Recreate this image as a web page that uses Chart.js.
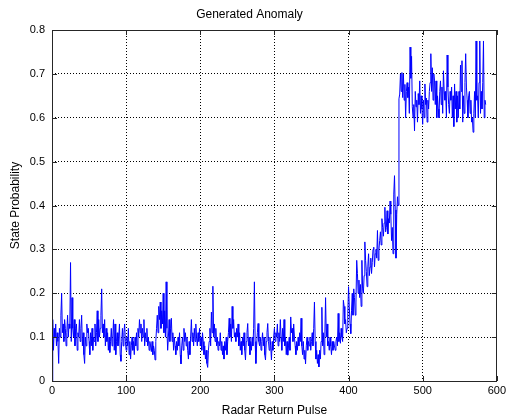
<!DOCTYPE html>
<html><head><meta charset="utf-8">
<script src="https://cdn.jsdelivr.net/npm/chart.js@4/dist/chart.umd.min.js"></script>
<style>html,body{margin:0;padding:0;background:#fff}#wrap{width:509px;height:418px}</style>
</head><body><div id="wrap"><canvas id="c" width="509" height="418"></canvas></div>
<script>
const titleText = 'Generated Anomaly';
const xLabel = 'Radar Return Pulse';
const yLabel = 'State Probability';
const xTicks = [0, 100, 200, 300, 400, 500, 600];
const yTicks = [0, 0.1, 0.2, 0.3, 0.4, 0.5, 0.6, 0.7, 0.8];

// pulses 0..399 (normal state)
const baseline = [
0,0.14,0.07,0.12,0.10,0.13,0.08,0.11,0.09,0.04,
0.12,0.10,0.15,0.20,0.11,0.13,0.09,0.14,0.12,0.08,
0.11,0.15,0.10,0.13,0.12,0.27,0.09,0.19,0.12,0.10,
0.14,0.08,0.12,0.13,0.07,0.11,0.10,0.14,0.09,0.12,
0.15,0.08,0.11,0.06,0.04,0.10,0.08,0.13,0.11,0.12,
0.09,0.06,0.11,0.08,0.12,0.07,0.10,0.09,0.13,0.08,
0.11,0.16,0.09,0.14,0.10,0.12,0.15,0.21,0.11,0.13,
0.10,0.14,0.08,0.12,0.09,0.11,0.07,0.10,0.065,0.09,
0.12,0.08,0.10,0.14,0.07,0.13,0.06,0.09,0.11,0.08,
0.10,0.13,0.06,0.045,0.09,0.12,0.08,0.11,0.13,0.09,
0.07,0.10,0.08,0.12,0.06,0.09,0.05,0.08,0.10,0.07,
0.09,0.06,0.10,0.08,0.11,0.07,0.12,0.10,0.14,0.11,
0.13,0.09,0.12,0.10,0.14,0.08,0.11,0.09,0.12,0.08,
0.10,0.07,0.09,0.08,0.067,0.09,0.06,0.08,0.07,0.048,
0.09,0.12,0.15,0.11,0.17,0.14,0.18,0.12,0.16,0.13,
0.20,0.11,0.16,0.10,0.226,0.12,0.07,0.10,0.14,0.09,
0.12,0.143,0.09,0.11,0.07,0.10,0.08,0.06,0.09,0.07,
0.10,0.08,0.11,0.06,0.039,0.08,0.10,0.07,0.12,0.09,
0.11,0.08,0.10,0.07,0.05,0.09,0.06,0.10,0.14,0.09,
0.11,0.08,0.12,0.09,0.13,0.10,0.08,0.11,0.09,0.12,
0.08,0.10,0.07,0.11,0.09,0.06,0.08,0.05,0.07,0.04,
0.031,0.07,0.09,0.12,0.08,0.157,0.11,0.216,0.10,0.13,
0.09,0.12,0.08,0.10,0.07,0.09,0.08,0.11,0.07,0.09,
0.06,0.08,0.05,0.09,0.07,0.10,0.06,0.09,0.11,0.143,
0.10,0.13,0.09,0.17,0.12,0.14,0.10,0.11,0.09,0.12,
0.10,0.13,0.08,0.11,0.07,0.09,0.06,0.10,0.08,0.11,
0.07,0.048,0.09,0.11,0.131,0.08,0.10,0.06,0.09,0.07,
0.10,0.08,0.12,0.226,0.09,0.04,0.08,0.11,0.131,0.09,
0.08,0.10,0.07,0.09,0.11,0.08,0.10,0.06,0.048,0.09,
0.11,0.131,0.09,0.07,0.10,0.08,0.048,0.09,0.07,0.10,
0.12,0.09,0.11,0.10,0.13,0.08,0.11,0.09,0.14,0.10,
0.07,0.12,0.09,0.14,0.08,0.10,0.06,0.09,0.059,0.08,
0.10,0.07,0.146,0.11,0.12,0.09,0.13,0.10,0.08,0.06,
0.09,0.07,0.10,0.08,0.11,0.09,0.143,0.08,0.06,0.09,
0.05,0.07,0.039,0.08,0.10,0.07,0.09,0.08,0.10,0.07,
0.09,0.11,0.08,0.12,0.18,0.09,0.05,0.07,0.04,0.06,
0.032,0.07,0.05,0.09,0.168,0.08,0.11,0.06,0.10,0.19,
0.10,0.13,0.08,0.09,0.07,0.10,0.08,0.06,0.09,0.07,
0.09,0.08,0.07,0.09,0.10,0.08,0.154,0.09,0.11,0.086,
0.12,0.10,0.09,0.184,0.17,0.13,0.14,0.11,0.12,0.154
];

// pulses 400..467 (anomaly onset)
const rise = [
0.215,0.17,0.13,0.108,0.16,0.20,0.15,0.21,0.19,0.15,
0.18,0.275,0.245,0.20,0.23,0.19,0.22,0.17,0.275,0.21,
0.20,0.24,0.317,0.275,0.25,0.215,0.26,0.29,0.24,0.26,
0.28,0.245,0.27,0.30,0.305,0.26,0.29,0.30,0.28,0.343,
0.275,0.30,0.32,0.34,0.31,0.37,0.35,0.33,0.36,0.396,
0.34,0.35,0.388,0.335,0.37,0.36,0.41,0.38,0.32,0.35,
0.29,0.426,0.468,0.39,0.28,0.38,0.42,0.40
];

// pulses 468..585 (anomalous state)
const plateau = [
0.643,0.654,
0.70,0.66,0.703,0.646,0.70,0.64,0.676,0.60,0.66,0.68,
0.646,0.67,0.61,0.761,0.69,0.74,0.625,0.60,0.63,0.57,
0.66,0.625,0.64,0.59,0.655,0.63,0.684,0.61,0.65,0.62,
0.585,0.64,0.60,0.677,0.63,0.645,0.59,0.64,0.62,0.66,
0.68,0.746,0.66,0.714,0.64,0.70,0.684,0.63,0.684,0.60,
0.65,0.62,0.60,0.66,0.684,0.63,0.67,0.61,0.707,0.66,
0.64,0.66,0.60,0.743,0.67,0.63,0.61,0.66,0.64,0.67,
0.60,0.65,0.58,0.677,0.62,0.66,0.59,0.65,0.60,0.66,
0.62,0.72,0.66,0.73,0.59,0.65,0.61,0.68,0.746,0.67,
0.64,0.60,0.65,0.66,0.61,0.64,0.59,0.60,0.567,0.61,
0.66,0.60,0.775,0.64,0.65,0.60,0.68,0.775,0.61,0.66,
0.62,0.68,0.775,0.60,0.64,0.63
];

const probability = baseline.concat(rise, plateau);
const points = probability.map((v, i) => ({x: i, y: v}));

const FONT = '"Liberation Sans", Arial, Helvetica, sans-serif';

const boxPlugin = {
  id: 'box',
  afterDraw(chart) {
    const {ctx, chartArea: a, scales} = chart;
    ctx.save();
    ctx.strokeStyle = '#262626';
    ctx.lineWidth = 1;
    ctx.setLineDash([]);
    ctx.strokeRect(Math.round(a.left) + 0.5, Math.round(a.top) + 0.5,
      Math.round(a.right - a.left) - 1, Math.round(a.bottom - a.top));
    const L = 5;
    ctx.beginPath();
    xTicks.forEach(v => {
      const px = Math.round(scales.x.getPixelForValue(v)) + 0.5;
      ctx.moveTo(px, a.bottom); ctx.lineTo(px, a.bottom - L);
      ctx.moveTo(px, a.top); ctx.lineTo(px, a.top + L);
    });
    yTicks.forEach(v => {
      const py = Math.round(scales.y.getPixelForValue(v)) + 0.5;
      ctx.moveTo(a.left, py); ctx.lineTo(a.left + L, py);
      ctx.moveTo(a.right, py); ctx.lineTo(a.right - L, py);
    });
    ctx.stroke();
    ctx.restore();
  }
};

new Chart(document.getElementById('c'), {
  type: 'line',
  data: {
    datasets: [{
      data: points,
      borderColor: '#0000ff',
      borderWidth: 1,
      pointRadius: 0,
      tension: 0,
      fill: false
    }]
  },
  options: {
    responsive: false,
    animation: false,
    devicePixelRatio: 1,
    layout: {padding: {left: 0, right: 10, top: 0, bottom: 0}},
    plugins: {
      legend: {display: false},
      tooltip: {enabled: false},
      title: {
        display: true, text: titleText, color: '#000',
        font: {family: FONT, size: 12, weight: 'normal'},
        padding: {top: 7, bottom: 8.6}
      }
    },
    scales: {
      x: {
        type: 'linear', min: 0, max: 600,
        afterBuildTicks: s => { s.ticks = xTicks.map(v => ({value: v})); },
        afterFit: s => { s.height = 37; },
        ticks: {color: '#000', font: {family: FONT, size: 11}, padding: 3,
          maxRotation: 0, autoSkip: false, callback: v => String(v)},
        grid: {color: '#000', lineWidth: 1, drawTicks: false},
        border: {display: false, dash: [1, 2]},
        title: {display: true, text: xLabel, color: '#000',
          font: {family: FONT, size: 12}, padding: {top: 0, bottom: 0}}
      },
      y: {
        type: 'linear', min: 0, max: 0.8,
        afterBuildTicks: s => { s.ticks = yTicks.map(v => ({value: v})); },
        afterFit: s => { s.width = 52; },
        ticks: {color: '#000', font: {family: FONT, size: 11}, padding: 7,
          autoSkip: false, callback: v => String(Math.round(v * 10) / 10)},
        grid: {color: '#000', lineWidth: 1, drawTicks: false},
        border: {display: false, dash: [1, 2]},
        title: {display: true, text: yLabel, color: '#000',
          font: {family: FONT, size: 12}, padding: {top: 8, bottom: 0}}
      }
    }
  },
  plugins: [boxPlugin]
});
</script>
</body></html>
